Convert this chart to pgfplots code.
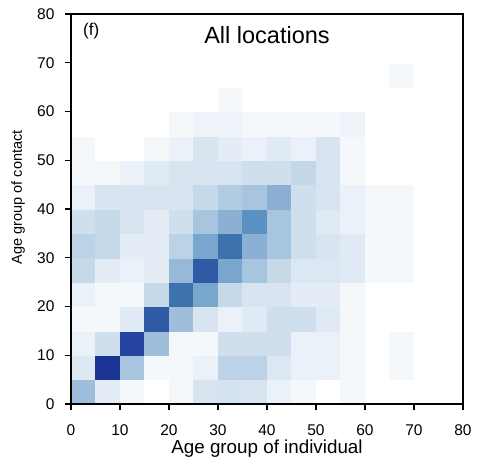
\documentclass[border=0pt]{standalone}
\usepackage{fontspec}
\setmainfont{Liberation Sans}
\usepackage{pgfplots}
\pgfplotsset{compat=1.18}
\begin{document}
\begin{tikzpicture}
\begin{axis}[
 width=392pt, height=390pt, scale only axis,
 xmin=0,xmax=80,ymin=0,ymax=80,
 xtick={0,10,...,80}, ytick={0,10,...,80},
 tick align=outside, tick pos=left,
 major tick length=6pt,
 axis line style={line width=1.3pt},
 every tick/.style={black, line width=1.3pt},
 /pgf/number format/assume math mode=true,
 ticklabel style={font=\fontsize{15.5}{18}\selectfont},
 xticklabel style={yshift=-11pt},
 yticklabel style={xshift=-7pt},
 xlabel={Age group of individual},
 ylabel={Age group of contact},
 xlabel style={font=\fontsize{18.8}{22}\selectfont, at={([yshift=-50pt]axis description cs:0.5,0)}, anchor=base},
 ylabel style={font=\fontsize{14.5}{17}\selectfont, at={([xshift=-49pt]axis description cs:0,0.53)}, anchor=base},
 colormap={myblues}{rgb255(0)=(255,255,255) rgb255(4)=(244,248,251) rgb255(8)=(235,241,248) rgb255(11)=(224,234,244) rgb255(14)=(216,229,241) rgb255(17)=(207,223,237) rgb255(20)=(198,217,233) rgb255(23)=(188,210,230) rgb255(30)=(168,197,223) rgb255(35)=(151,185,216) rgb255(40)=(139,176,211) rgb255(45)=(120,166,204) rgb255(58)=(90,145,194) rgb255(72)=(62,114,174) rgb255(82)=(46,90,166) rgb255(90)=(36,68,160) rgb255(100)=(28,51,150)},
 point meta min=0, point meta max=1,
 axis on top,
]
\addplot[matrix plot*, mesh/cols=16, point meta=explicit] table[meta=c, row sep=\\]{
x y c\\
2.5 2.5 0.33\\ 7.5 2.5 0.10\\ 12.5 2.5 0.04\\ 17.5 2.5 0\\ 22.5 2.5 0.04\\ 27.5 2.5 0.14\\ 32.5 2.5 0.15\\ 37.5 2.5 0.14\\ 42.5 2.5 0.08\\ 47.5 2.5 0.04\\ 52.5 2.5 0\\ 57.5 2.5 0.04\\ 62.5 2.5 0\\ 67.5 2.5 0\\ 72.5 2.5 0\\ 77.5 2.5 0\\
2.5 7.5 0.12\\ 7.5 7.5 1.00\\ 12.5 7.5 0.30\\ 17.5 7.5 0.04\\ 22.5 7.5 0.04\\ 27.5 7.5 0.08\\ 32.5 7.5 0.23\\ 37.5 7.5 0.23\\ 42.5 7.5 0.13\\ 47.5 7.5 0.08\\ 52.5 7.5 0.08\\ 57.5 7.5 0.04\\ 62.5 7.5 0\\ 67.5 7.5 0.04\\ 72.5 7.5 0\\ 77.5 7.5 0\\
2.5 12.5 0.08\\ 7.5 12.5 0.17\\ 12.5 12.5 0.90\\ 17.5 12.5 0.33\\ 22.5 12.5 0.04\\ 27.5 12.5 0.04\\ 32.5 12.5 0.17\\ 37.5 12.5 0.17\\ 42.5 12.5 0.17\\ 47.5 12.5 0.08\\ 52.5 12.5 0.08\\ 57.5 12.5 0.04\\ 62.5 12.5 0\\ 67.5 12.5 0.04\\ 72.5 12.5 0\\ 77.5 12.5 0\\
2.5 17.5 0.04\\ 7.5 17.5 0.04\\ 12.5 17.5 0.11\\ 17.5 17.5 0.82\\ 22.5 17.5 0.33\\ 27.5 17.5 0.14\\ 32.5 17.5 0.08\\ 37.5 17.5 0.11\\ 42.5 17.5 0.17\\ 47.5 17.5 0.17\\ 52.5 17.5 0.11\\ 57.5 17.5 0.04\\ 62.5 17.5 0\\ 67.5 17.5 0\\ 72.5 17.5 0\\ 77.5 17.5 0\\
2.5 22.5 0.08\\ 7.5 22.5 0.04\\ 12.5 22.5 0.04\\ 17.5 22.5 0.20\\ 22.5 22.5 0.72\\ 27.5 22.5 0.45\\ 32.5 22.5 0.20\\ 37.5 22.5 0.14\\ 42.5 22.5 0.14\\ 47.5 22.5 0.10\\ 52.5 22.5 0.10\\ 57.5 22.5 0.04\\ 62.5 22.5 0\\ 67.5 22.5 0\\ 72.5 22.5 0\\ 77.5 22.5 0\\
2.5 27.5 0.20\\ 7.5 27.5 0.10\\ 12.5 27.5 0.08\\ 17.5 27.5 0.10\\ 22.5 27.5 0.35\\ 27.5 27.5 0.82\\ 32.5 27.5 0.45\\ 37.5 27.5 0.30\\ 42.5 27.5 0.20\\ 47.5 27.5 0.13\\ 52.5 27.5 0.13\\ 57.5 27.5 0.11\\ 62.5 27.5 0.04\\ 67.5 27.5 0.04\\ 72.5 27.5 0\\ 77.5 27.5 0\\
2.5 32.5 0.23\\ 7.5 32.5 0.20\\ 12.5 32.5 0.10\\ 17.5 32.5 0.10\\ 22.5 32.5 0.23\\ 27.5 32.5 0.45\\ 32.5 32.5 0.72\\ 37.5 32.5 0.40\\ 42.5 32.5 0.30\\ 47.5 32.5 0.17\\ 52.5 32.5 0.14\\ 57.5 32.5 0.11\\ 62.5 32.5 0.04\\ 67.5 32.5 0.04\\ 72.5 32.5 0\\ 77.5 32.5 0\\
2.5 37.5 0.17\\ 7.5 37.5 0.20\\ 12.5 37.5 0.14\\ 17.5 37.5 0.10\\ 22.5 37.5 0.17\\ 27.5 37.5 0.30\\ 32.5 37.5 0.40\\ 37.5 37.5 0.58\\ 42.5 37.5 0.30\\ 47.5 37.5 0.17\\ 52.5 37.5 0.11\\ 57.5 37.5 0.08\\ 62.5 37.5 0.04\\ 67.5 37.5 0.04\\ 72.5 37.5 0\\ 77.5 37.5 0\\
2.5 42.5 0.08\\ 7.5 42.5 0.14\\ 12.5 42.5 0.14\\ 17.5 42.5 0.14\\ 22.5 42.5 0.14\\ 27.5 42.5 0.20\\ 32.5 42.5 0.27\\ 37.5 42.5 0.30\\ 42.5 42.5 0.40\\ 47.5 42.5 0.17\\ 52.5 42.5 0.14\\ 57.5 42.5 0.08\\ 62.5 42.5 0.04\\ 67.5 42.5 0.04\\ 72.5 42.5 0\\ 77.5 42.5 0\\
2.5 47.5 0.04\\ 7.5 47.5 0.04\\ 12.5 47.5 0.08\\ 17.5 47.5 0.11\\ 22.5 47.5 0.14\\ 27.5 47.5 0.14\\ 32.5 47.5 0.14\\ 37.5 47.5 0.17\\ 42.5 47.5 0.17\\ 47.5 47.5 0.21\\ 52.5 47.5 0.14\\ 57.5 47.5 0.04\\ 62.5 47.5 0\\ 67.5 47.5 0\\ 72.5 47.5 0\\ 77.5 47.5 0\\
2.5 52.5 0.04\\ 7.5 52.5 0\\ 12.5 52.5 0\\ 17.5 52.5 0.04\\ 22.5 52.5 0.08\\ 27.5 52.5 0.14\\ 32.5 52.5 0.10\\ 37.5 52.5 0.08\\ 42.5 52.5 0.11\\ 47.5 52.5 0.08\\ 52.5 52.5 0.14\\ 57.5 52.5 0.04\\ 62.5 52.5 0\\ 67.5 52.5 0\\ 72.5 52.5 0\\ 77.5 52.5 0\\
2.5 57.5 0\\ 7.5 57.5 0\\ 12.5 57.5 0\\ 17.5 57.5 0\\ 22.5 57.5 0.04\\ 27.5 57.5 0.07\\ 32.5 57.5 0.07\\ 37.5 57.5 0.04\\ 42.5 57.5 0.04\\ 47.5 57.5 0.04\\ 52.5 57.5 0.04\\ 57.5 57.5 0.07\\ 62.5 57.5 0\\ 67.5 57.5 0\\ 72.5 57.5 0\\ 77.5 57.5 0\\
2.5 62.5 0\\ 7.5 62.5 0\\ 12.5 62.5 0\\ 17.5 62.5 0\\ 22.5 62.5 0\\ 27.5 62.5 0\\ 32.5 62.5 0.04\\ 37.5 62.5 0\\ 42.5 62.5 0\\ 47.5 62.5 0\\ 52.5 62.5 0\\ 57.5 62.5 0\\ 62.5 62.5 0\\ 67.5 62.5 0\\ 72.5 62.5 0\\ 77.5 62.5 0\\
2.5 67.5 0\\ 7.5 67.5 0\\ 12.5 67.5 0\\ 17.5 67.5 0\\ 22.5 67.5 0\\ 27.5 67.5 0\\ 32.5 67.5 0\\ 37.5 67.5 0\\ 42.5 67.5 0\\ 47.5 67.5 0\\ 52.5 67.5 0\\ 57.5 67.5 0\\ 62.5 67.5 0\\ 67.5 67.5 0.04\\ 72.5 67.5 0\\ 77.5 67.5 0\\
2.5 72.5 0\\ 7.5 72.5 0\\ 12.5 72.5 0\\ 17.5 72.5 0\\ 22.5 72.5 0\\ 27.5 72.5 0\\ 32.5 72.5 0\\ 37.5 72.5 0\\ 42.5 72.5 0\\ 47.5 72.5 0\\ 52.5 72.5 0\\ 57.5 72.5 0\\ 62.5 72.5 0\\ 67.5 72.5 0\\ 72.5 72.5 0\\ 77.5 72.5 0\\
2.5 77.5 0\\ 7.5 77.5 0\\ 12.5 77.5 0\\ 17.5 77.5 0\\ 22.5 77.5 0\\ 27.5 77.5 0\\ 32.5 77.5 0\\ 37.5 77.5 0\\ 42.5 77.5 0\\ 47.5 77.5 0\\ 52.5 77.5 0\\ 57.5 77.5 0\\ 62.5 77.5 0\\ 67.5 77.5 0\\ 72.5 77.5 0\\ 77.5 77.5 0\\
};
\node[font=\fontsize{23.5}{27}\selectfont, anchor=base] at (axis description cs:0.5,0.9256) {All locations};
\node[font=\fontsize{17}{20}\selectfont, anchor=base west, inner sep=0pt] at (axis description cs:0.0306,0.946) {(f)};
\coordinate (ll) at (axis description cs:0,0);
\coordinate (ur) at (axis description cs:1,1);
\end{axis}
\pgfresetboundingbox
\path ([xshift=-71pt,yshift=-60pt]ll) rectangle ([xshift=23pt,yshift=14pt]ur);
\end{tikzpicture}
\end{document}
